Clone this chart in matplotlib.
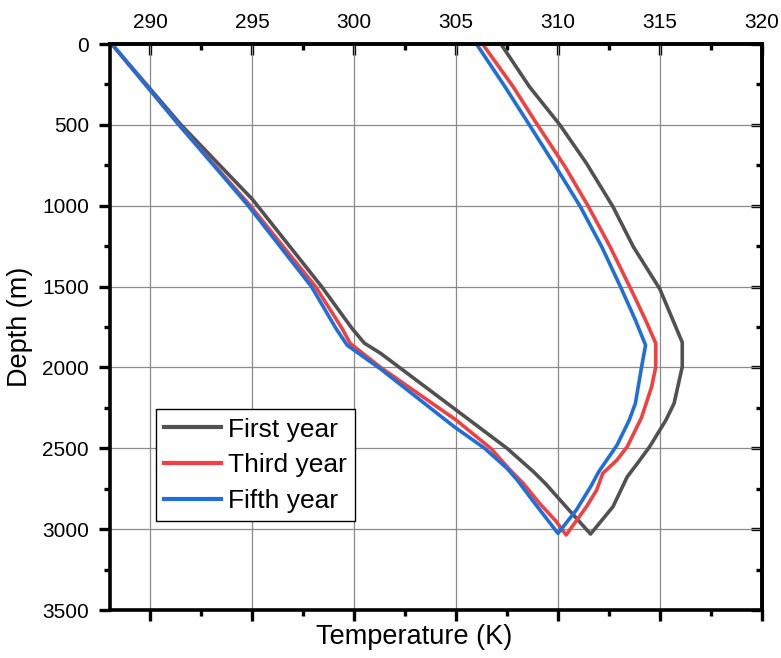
import matplotlib
matplotlib.use("Agg")
import matplotlib.pyplot as plt
from matplotlib.ticker import MultipleLocator

plt.rcParams['font.family'] = ['Liberation Sans', 'DejaVu Sans']

# ---- data (temperature K, depth m), path: down-going leg then up-going leg ----
first_T = [288.1, 291.5, 295.0, 298.4, 299.9, 300.5, 301.3, 305.0, 307.5, 308.8, 309.4, 310.6, 311.6,
           312.7, 313.4, 313.9, 314.5, 315.0, 315.3, 315.7, 316.1, 316.1, 315.0, 313.7, 312.7,
           311.4, 310.1, 308.6, 307.2]
first_D = [0, 500, 960, 1500, 1760, 1850, 1913, 2263, 2500, 2645, 2720, 2890, 3030,
           2861, 2676, 2593, 2490, 2387, 2325, 2222, 1996, 1845, 1515, 1254, 1006,
           738, 501, 264, 0]

third_T = [288.1, 291.4, 294.9, 298.1, 299.4, 299.8, 301.3, 305.0, 306.7, 307.65, 308.3, 309.1, 309.9, 310.4,
           311.4, 311.9, 312.2, 312.9, 313.4, 314.1, 314.6, 314.8, 314.8, 314.3, 313.6, 312.56, 311.5,
           310.35, 309.0, 307.8, 306.3]
third_D = [0, 500, 1000, 1500, 1758, 1851, 2000, 2325, 2500, 2634, 2717, 2841, 2950, 3036,
           2861, 2758, 2655, 2572, 2490, 2310, 2119, 1996, 1851, 1707, 1521, 1254, 1006,
           759, 501, 264, 0]

fifth_T = [288.1, 291.4, 294.8, 297.9, 299.1, 299.65, 301.3, 304.9, 306.4, 307.5, 308.0, 308.8, 310.0,
           310.9, 311.6, 312.0, 312.9, 313.5, 313.8, 314.1, 314.3, 313.8, 313.1, 312.15, 311.1,
           309.9, 308.6, 307.4, 306.0]
fifth_D = [0, 500, 1000, 1500, 1758, 1862, 2010, 2366, 2500, 2624, 2696, 2830, 3026,
           2882, 2738, 2645, 2480, 2325, 2222, 2000, 1862, 1707, 1510, 1254, 1006,
           760, 501, 264, 0]

labels = ['First year', 'Third year', 'Fifth year']
colors = ['#515151', '#f24040', '#1e6fdc']

x_ticks = [290, 295, 300, 305, 310, 315, 320]
y_ticks = [0, 500, 1000, 1500, 2000, 2500, 3000, 3500]

fig = plt.figure(figsize=(7.81, 6.58), dpi=100)
ax = fig.add_axes([0.1405, 0.0729, 0.8348, 0.8602])

for T, D, lab, c in zip([first_T, third_T, fifth_T], [first_D, third_D, fifth_D], labels, colors):
    ax.plot(T, D, color=c, lw=2.6, label=lab, solid_joinstyle='round')

ax.set_xlim(288, 320)
ax.set_ylim(3500, 0)
ax.set_xticks(x_ticks)
ax.set_yticks(y_ticks)
ax.xaxis.set_minor_locator(MultipleLocator(2.5))
ax.yaxis.set_minor_locator(MultipleLocator(250))
ax.grid(which='major', color='#8a8a8a', lw=0.9)

ax.xaxis.set_ticks_position('bottom')
ax.yaxis.set_ticks_position('left')
ax.tick_params(axis='x', which='major', direction='out', length=8, width=2.4, labelbottom=False)
ax.tick_params(axis='x', which='minor', direction='out', length=4, width=2.4)
ax.tick_params(axis='y', which='major', direction='out', length=8, width=2.4, labelsize=15, pad=7)
ax.tick_params(axis='y', which='minor', direction='out', length=4, width=2.4)

for s in ax.spines.values():
    s.set_linewidth(2.6)

top = ax.secondary_xaxis('top')
top.set_xticks(x_ticks)
top.xaxis.set_minor_locator(MultipleLocator(2.5))
top.tick_params(axis='x', which='major', direction='in', length=8, width=2.4, labelsize=15, pad=9)
top.tick_params(axis='x', which='minor', direction='in', length=4, width=2.4)
for s in top.spines.values():
    s.set_linewidth(2.6)

right = ax.secondary_yaxis('right')
right.set_yticks(y_ticks)
right.yaxis.set_minor_locator(MultipleLocator(250))
right.tick_params(axis='y', which='major', direction='in', length=8, width=2.4, labelright=False)
right.tick_params(axis='y', which='minor', direction='in', length=4, width=2.4)
for s in right.spines.values():
    s.set_linewidth(2.6)

ax.set_xlabel('Temperature (K)', fontsize=19.5)
ax.xaxis.set_label_coords(0.467, -0.025)
ax.set_ylabel('Depth (m)', fontsize=19.5)
ax.yaxis.set_label_coords(-0.118, 0.5)

leg = ax.legend(loc='upper left', bbox_to_anchor=(0.071, 0.355), borderaxespad=0,
                fontsize=19, handlelength=2.14, handletextpad=0.25, labelspacing=0.44,
                borderpad=0.32, fancybox=False, framealpha=1, edgecolor='black')
leg.get_frame().set_linewidth(1.0)
for h in leg.get_lines():
    h.set_linewidth(3.0)

fig.savefig('out.png', dpi=100)
